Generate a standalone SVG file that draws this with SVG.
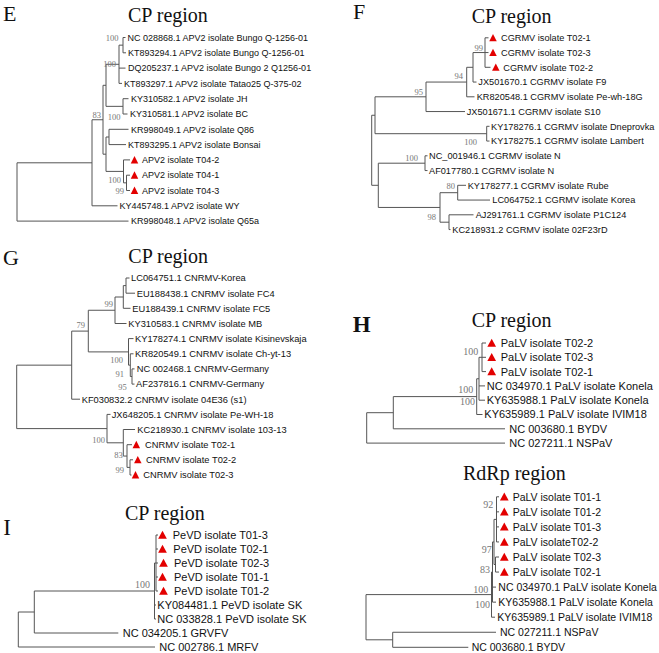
<svg xmlns="http://www.w3.org/2000/svg" xmlns:xlink="http://www.w3.org/1999/xlink" width="659" height="653" viewBox="0 0 659 653">
<style>
.lf{font-family:"Liberation Sans",Arial,sans-serif;fill:#111}
.e{font-size:9px}.f{font-size:9.2px}.g{font-size:9.3px}.h{font-size:11px}.q{font-size:10.5px}.i{font-size:11px}
.bs{font-family:"Liberation Serif","Times New Roman",serif;fill:#777;text-anchor:end;font-size:8.5px}
.bb{font-size:10px}
.ttl{font-family:"Liberation Serif","Times New Roman",serif;font-size:20px;fill:#111}
.pl{font-family:"Liberation Serif","Times New Roman",serif;font-size:22px;fill:#111}
.tr{stroke:#555;stroke-width:1;fill:none}
</style>
<defs>
<path id="ts" d="M0,-3.9L3.75,3.5L-3.75,3.5Z" fill="#e30000"/>
<path id="tl" d="M0,-4.3L4.35,3.7L-4.35,3.7Z" fill="#e30000"/>
</defs>
<rect width="659" height="653" fill="#fff"/>

<!-- Panel titles -->
<g id="titles">
<text class="pl" x="3" y="21">E</text>
<text class="ttl" x="128" y="22">CP region</text>
<text class="pl" x="353" y="18.5">F</text>
<text class="ttl" x="471.7" y="22.5">CP region</text>
<text class="pl" x="3" y="265">G</text>
<text class="ttl" x="128.3" y="263">CP region</text>
<text class="pl" x="352.7" y="332" font-weight="bold" style="font-size:23px">H</text>
<text class="ttl" x="471.7" y="327">CP region</text>
<text class="ttl" x="463" y="480">RdRp region</text>
<text class="pl" x="3.3" y="535" style="font-size:23px">I</text>
<text class="ttl" x="125" y="520">CP region</text>
</g>

<!-- Connectors -->
<g id="connectors" class="tr">
<path id="tree-E" d="M123,37.5V52.8M123,37.5H125.5M123,52.8H126M119,45.15V83.4M119,45.15H123M119,68.1H125.5M119,83.4H122M123,98.7V114M123,98.7H128.5M123,114H127.5M106,64.3V106.35M106,64.3H119M106,106.35H123M109,129.3V144.6M109,129.3H128.5M109,144.6H126M126.5,175.2V190.5M126.5,175.2H130M126.5,190.5H130M123.5,159.9V182.85M123.5,159.9H130M123.5,182.85H126.5M106,137V171.4M106,137H109M106,171.4H123.5M103,85.3V154.2M103,85.3H106M103,154.2H106M92,119.75V205.8M92,119.75H103M92,205.8H117.5M17,162.8V221.1M17,162.8H92M17,221.1H128.5"/>
<path id="tree-F" d="M485,37.8V67.3M485,37.8H488.5M485,52.55H488.5M485,67.3H490.5M473,52.55V82.05M473,52.55H485M473,82.05H476.5M466.7,67.3V96.8M466.7,67.3H473M466.7,96.8H474.5M426,82.05V111.55M426,82.05H466.7M426,111.55H465M486.7,126.3V141.05M486.7,126.3H489.5M486.7,141.05H489.5M375,96.8V133.7M375,96.8H426M375,133.7H486.7M425,155.8V170.55M425,155.8H427.5M425,170.55H427.5M457.7,185.3V200.05M457.7,185.3H466M457.7,200.05H490M449,214.8V229.55M449,214.8H473.5M449,229.55H450.5M440,192.7V222.2M440,192.7H457.7M440,222.2H449M378.3,163.2V207.45M378.3,163.2H425M378.3,207.45H440M371.7,115.25V185.3M371.7,115.25H375M371.7,185.3H378.3"/>
<path id="tree-G" d="M126,278V293.2M126,278H129.5M126,293.2H135M123.3,285.6V308.3M123.3,285.6H126M123.3,308.3H130.5M115,297V323.5M115,297H123.3M115,323.5H126.5M132,368.9V384.1M132,368.9H134.5M132,384.1H134.5M130.3,353.8V376.5M130.3,353.8H133.5M130.3,376.5H132M128.5,338.6V365.15M128.5,338.6H133.5M128.5,365.15H130.3M88.3,310.25V351.9M88.3,310.25H115M88.3,351.9H128.5M71.7,331.1V399.2M71.7,331.1H88.3M71.7,399.2H80M130,459.8V475M130,459.8H133M130,475H131.5M127,444.7V467.4M127,444.7H132M127,467.4H130M123.3,429.5V456.05M123.3,429.5H135M123.3,456.05H127M107,414.4V442.8M107,414.4H110.5M107,442.8H123.3M16.7,365.15V428.6M16.7,365.15H71.7M16.7,428.6H107"/>
<path id="tree-H" d="M482,343V371.6M482,343H486M482,357.3H486M482,371.6H486M479,357.3V400.2M479,357.3H482M479,385.9H485M479,400.2H485M476.7,378.75V414.5M476.7,378.75H479M476.7,414.5H482.5M393.3,396.6V428.8M393.3,396.6H476.7M393.3,428.8H505M366.7,412.7V443.1M366.7,412.7H393.3M366.7,443.1H505"/>
<path id="tree-RdRp" d="M496.5,496.8V541.95M496.5,496.8H499M496.5,511.85H499M496.5,526.9H499M496.5,541.95H499M495.5,557V572.05M495.5,557H499M495.5,572.05H499M494,519.4V564.5M494,519.4H496.5M494,564.5H495.5M492.5,541.95V602.15M492.5,541.95H494M492.5,587.1H496M492.5,602.15H496M491.5,572.05V617.2M491.5,572.05H492.5M491.5,617.2H495M392.7,632.25V647.3M392.7,632.25H496M392.7,647.3H468.3M366,594.6V639.8M366,594.6H491.5M366,639.8H392.7"/>
<path id="tree-I" d="M156,535V591M156,535H158M156,549H158M156,563H158M156,577H158M156,591H158M154.5,563V619M154.5,563H156M154.5,605H156M154.5,619H156M34.3,591V633M34.3,591H154.5M34.3,633H118.3M18.3,612V647M18.3,612H34.3M18.3,647H155"/>
</g>

<!-- Bootstrap values -->
<g id="bootstrap-E" class="bs">
<text x="118.5" y="41">100</text>
<text x="116" y="67">100</text>
<text x="101" y="118">83</text>
<text x="120.5" y="119.5">100</text>
<text x="121" y="183">100</text>
<text x="124" y="194">99</text>
</g>
<g id="bootstrap-F" class="bs">
<text x="483" y="50.5">99</text>
<text x="463" y="79">94</text>
<text x="423" y="94.5">95</text>
<text x="477" y="144.5">100</text>
<text x="418" y="160.5">100</text>
<text x="455" y="188.5">80</text>
<text x="436" y="219.5">98</text>
</g>
<g id="bootstrap-G" class="bs">
<text x="113" y="307">99</text>
<text x="85" y="328">79</text>
<text x="123" y="363">100</text>
<text x="124" y="377">91</text>
<text x="126.7" y="389.5">95</text>
<text x="105" y="443">100</text>
<text x="122.7" y="458">83</text>
<text x="124" y="473">99</text>
</g>
<g id="bootstrap-H" class="bs bb">
<text x="478.3" y="355">100</text>
<text x="473.3" y="393">100</text>
<text x="475" y="405">100</text>
</g>
<g id="bootstrap-RdRp" class="bs bb">
<text x="493.3" y="508">92</text>
<text x="491.7" y="553">97</text>
<text x="490" y="573">83</text>
<text x="488.3" y="593">100</text>
<text x="490" y="608">100</text>
</g>
<g id="bootstrap-I" class="bs bb">
<text x="150" y="588">100</text>
</g>

<!-- Panel E leaves -->
<g id="E-leaves" class="lf e">
<g id="E-NC028868"><text x="127.5" y="40.7">NC 028868.1 APV2 isolate Bungo Q-1256-01</text></g>
<g id="E-KT893294"><text x="128" y="56">KT893294.1 APV2 isolate Bungo Q-1256-01</text></g>
<g id="E-DQ205237"><text x="128" y="71.3">DQ205237.1 APV2 isolate Bungo 2 Q1256-01</text></g>
<g id="E-KT893297"><text x="124" y="86.6">KT893297.1 APV2 isolate Tatao25 Q-375-02</text></g>
<g id="E-KY310582"><text x="131" y="101.9">KY310582.1 APV2 isolate JH</text></g>
<g id="E-KY310581"><text x="130" y="117.2">KY310581.1 APV2 isolate BC</text></g>
<g id="E-KR998049"><text x="131" y="132.5">KR998049.1 APV2 isolate Q86</text></g>
<g id="E-KT893295"><text x="128" y="147.8">KT893295.1 APV2 isolate Bonsai</text></g>
<g id="E-T04-2"><use href="#ts" xlink:href="#ts" x="134.5" y="159.9"/><text x="142" y="163.1">APV2 isolate T04-2</text></g>
<g id="E-T04-1"><use href="#ts" xlink:href="#ts" x="134.5" y="175.2"/><text x="142" y="178.4">APV2 isolate T04-1</text></g>
<g id="E-T04-3"><use href="#ts" xlink:href="#ts" x="134.5" y="190.5"/><text x="142" y="193.7">APV2 isolate T04-3</text></g>
<g id="E-KY445748"><text x="119.5" y="209">KY445748.1 APV2 isolate WY</text></g>
<g id="E-KR998048"><text x="131" y="224.3">KR998048.1 APV2 isolate Q65a</text></g>
</g>

<!-- Panel F leaves -->
<g id="F-leaves" class="lf f">
<g id="F-T02-1"><use href="#ts" xlink:href="#ts" x="493" y="37.8"/><text x="501" y="41.1">CGRMV isolate T02-1</text></g>
<g id="F-T02-3"><use href="#ts" xlink:href="#ts" x="493" y="52.55"/><text x="501" y="55.85">CGRMV isolate T02-3</text></g>
<g id="F-T02-2"><use href="#ts" xlink:href="#ts" x="495.8" y="67.3"/><text x="503.3" y="70.6">CGRMV isolate T02-2</text></g>
<g id="F-JX501670"><text x="478.3" y="85.35">JX501670.1 CGRMV isolate F9</text></g>
<g id="F-KR820548"><text x="476.7" y="100.1">KR820548.1 CGRMV isolate Pe-wh-18G</text></g>
<g id="F-JX501671"><text x="466.7" y="114.85">JX501671.1 CGRMV isolate S10</text></g>
<g id="F-KY178276"><text x="491" y="129.6">KY178276.1 CGRMV isolate Dneprovka</text></g>
<g id="F-KY178275"><text x="491" y="144.35">KY178275.1 CGRMV isolate Lambert</text></g>
<g id="F-NC001946"><text x="429" y="159.1">NC_001946.1 CGRMV isolate N</text></g>
<g id="F-AF017780"><text x="429" y="173.85">AF017780.1 CGRMV isolate N</text></g>
<g id="F-KY178277"><text x="467.7" y="188.6">KY178277.1 CGRMV isolate Rube</text></g>
<g id="F-LC064752"><text x="492.3" y="203.35">LC064752.1 CGRMV isolate Korea</text></g>
<g id="F-AJ291761"><text x="475.7" y="218.1">AJ291761.1 CGRMV isolate P1C124</text></g>
<g id="F-KC218931"><text x="452.3" y="232.85">KC218931.2 CGRMV isolate 02F23rD</text></g>
</g>

<!-- Panel G leaves -->
<g id="G-leaves" class="lf g">
<g id="G-LC064751"><text x="131" y="281.3">LC064751.1 CNRMV-Korea</text></g>
<g id="G-EU188438"><text x="136.7" y="296.5">EU188438.1 CNRMV isolate FC4</text></g>
<g id="G-EU188439"><text x="132.3" y="311.6">EU188439.1 CNRMV isolate FC5</text></g>
<g id="G-KY310583"><text x="128.3" y="326.8">KY310583.1 CNRMV isolate MB</text></g>
<g id="G-KY178274"><text x="135" y="341.9">KY178274.1 CNRMV isolate Kisinevskaja</text></g>
<g id="G-KR820549"><text x="135" y="357.1">KR820549.1 CNRMV isolate Ch-yt-13</text></g>
<g id="G-NC002468"><text x="136.7" y="372.2">NC 002468.1 CNRMV-Germany</text></g>
<g id="G-AF237816"><text x="136" y="387.4">AF237816.1 CNRMV-Germany</text></g>
<g id="G-KF030832"><text x="81.7" y="402.5">KF030832.2 CNRMV isolate 04E36 (s1)</text></g>
<g id="G-JX648205"><text x="111.7" y="417.7">JX648205.1 CNRMV isolate Pe-WH-18</text></g>
<g id="G-KC218930"><text x="137.3" y="432.8">KC218930.1 CNRMV isolate 103-13</text></g>
<g id="G-T02-1"><use href="#ts" xlink:href="#ts" x="136.3" y="444.7"/><text x="145" y="448">CNRMV isolate T02-1</text></g>
<g id="G-T02-2"><use href="#ts" xlink:href="#ts" x="137.8" y="459.8"/><text x="146" y="463.1">CNRMV isolate T02-2</text></g>
<g id="G-T02-3"><use href="#ts" xlink:href="#ts" x="135.5" y="475"/><text x="143.3" y="478.3">CNRMV isolate T02-3</text></g>
</g>

<!-- Panel H leaves -->
<g id="H-leaves" class="lf h">
<g id="H-T02-2"><use href="#tl" xlink:href="#tl" x="491.7" y="343"/><text x="500.7" y="346.9">PaLV isolate T02-2</text></g>
<g id="H-T02-3"><use href="#tl" xlink:href="#tl" x="491.7" y="357.3"/><text x="500.7" y="361.2">PaLV isolate T02-3</text></g>
<g id="H-T02-1"><use href="#tl" xlink:href="#tl" x="491.7" y="371.6"/><text x="500.7" y="375.5">PaLV isolate T02-1</text></g>
<g id="H-NC034970"><text x="486.7" y="389.8">NC 034970.1 PaLV isolate Konela</text></g>
<g id="H-KY635988"><text x="486.7" y="404.1">KY635988.1 PaLV isolate Konela</text></g>
<g id="H-KY635989"><text x="484.3" y="418.4">KY635989.1 PaLV isolate IVIM18</text></g>
<g id="H-NC003680"><text x="509.3" y="432.7">NC 003680.1 BYDV</text></g>
<g id="H-NC027211"><text x="509.3" y="447">NC 027211.1 NSPaV</text></g>
</g>

<!-- RdRp leaves -->
<g id="RdRp-leaves" class="lf q">
<g id="R-T01-1"><use href="#tl" xlink:href="#tl" x="504.3" y="496.8"/><text x="512.7" y="500.55">PaLV isolate T01-1</text></g>
<g id="R-T01-2"><use href="#tl" xlink:href="#tl" x="504.3" y="511.85"/><text x="512.7" y="515.6">PaLV isolate T01-2</text></g>
<g id="R-T01-3"><use href="#tl" xlink:href="#tl" x="504.3" y="526.9"/><text x="512.7" y="530.65">PaLV isolate T01-3</text></g>
<g id="R-T02-2"><use href="#tl" xlink:href="#tl" x="504.3" y="541.95"/><text x="512.7" y="545.7">PaLV isolateT02-2</text></g>
<g id="R-T02-3"><use href="#tl" xlink:href="#tl" x="504.3" y="557"/><text x="512.7" y="560.75">PaLV isolate T02-3</text></g>
<g id="R-T02-1"><use href="#tl" xlink:href="#tl" x="504.3" y="572.05"/><text x="512.7" y="575.8">PaLV isolate T02-1</text></g>
<g id="R-NC034970"><text x="498.3" y="590.85">NC 034970.1 PaLV isolate Konela</text></g>
<g id="R-KY635988"><text x="498.3" y="605.9">KY635988.1 PaLV isolate Konela</text></g>
<g id="R-KY635989"><text x="497.3" y="620.95">KY635989.1 PaLV isolate IVIM18</text></g>
<g id="R-NC027211"><text x="500" y="636">NC 027211.1 NSPaV</text></g>
<g id="R-NC003680"><text x="471.7" y="651.05">NC 003680.1 BYDV</text></g>
</g>

<!-- Panel I leaves -->
<g id="I-leaves" class="lf i">
<g id="I-T01-3"><use href="#tl" xlink:href="#tl" x="162.5" y="535"/><text x="172.7" y="538.9">PeVD isolate T01-3</text></g>
<g id="I-T02-1"><use href="#tl" xlink:href="#tl" x="162.5" y="549"/><text x="173.3" y="552.9">PeVD isolate T02-1</text></g>
<g id="I-T02-3"><use href="#tl" xlink:href="#tl" x="163.5" y="563"/><text x="174" y="566.9">PeVD isolate T02-3</text></g>
<g id="I-T01-1"><use href="#tl" xlink:href="#tl" x="162.5" y="577"/><text x="174" y="580.9">PeVD isolate T01-1</text></g>
<g id="I-T01-2"><use href="#tl" xlink:href="#tl" x="163.5" y="591"/><text x="174" y="594.9">PeVD isolate T01-2</text></g>
<g id="I-KY084481"><text x="157.3" y="608.9">KY084481.1 PeVD isolate SK</text></g>
<g id="I-NC033828"><text x="157.3" y="622.9">NC 033828.1 PeVD isolate SK</text></g>
<g id="I-NC034205"><text x="122.7" y="636.9">NC 034205.1 GRVFV</text></g>
<g id="I-NC002786"><text x="159.3" y="650.9">NC 002786.1 MRFV</text></g>
</g>
</svg>
